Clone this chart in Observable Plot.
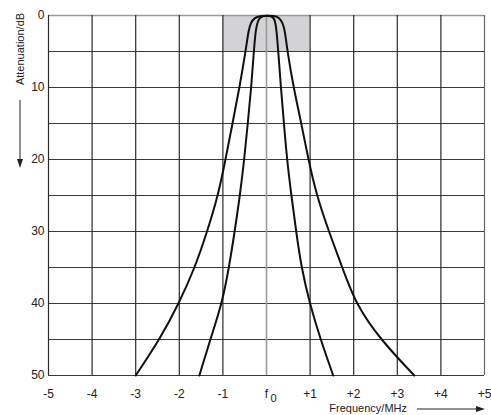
<!DOCTYPE html>
<html>
<head>
<meta charset="utf-8">
<script src="https://cdn.jsdelivr.net/npm/d3@7"></script>
<script src="https://cdn.jsdelivr.net/npm/@observablehq/plot@0.6"></script>
<style>
  html, body { margin: 0; padding: 0; background: #fff; }
  #chart { width: 491px; height: 415px; }
</style>
</head>
<body>
<div id="chart"></div>
<script>
// X axis ticks (MHz offset from f0) and labels
const xTicks = [-5, -4, -3, -2, -1, 0, 1, 2, 3, 4, 5];
const xTickLabels = ["-5", "-4", "-3", "-2", "-1", "f", "+1", "+2", "+3", "+4", "+5"];
const f0Subscript = ["0"];
// Y axis (attenuation dB)
const yTicks = [0, 10, 20, 30, 40, 50];
const yGrid = [0, 5, 10, 15, 20, 25, 30, 35, 40, 45, 50];

// Tolerance box
const boxX1 = [-1], boxX2 = [1], boxY1 = [0], boxY2 = [5];

// Wide filter curve
const wideFreq = [-3.0, -2.45, -2.01, -1.64, -1.36, -1.11, -0.94, -0.78, -0.62, -0.48, -0.41, -0.36, -0.27, -0.15,
                  0.2, 0.29, 0.37, 0.42, 0.48, 0.62, 0.80, 0.96, 1.15, 1.43, 1.74, 2.04, 2.61, 3.39];
const wideAtt  = [50, 45, 40, 35, 30, 25, 20, 15, 10, 5, 2, 1, 0.3, 0.02,
                  0.02, 0.3, 1, 2, 5, 10, 15, 20, 25, 30, 35, 40, 45, 50];

// Narrow filter curve
const narrowFreq = [-1.54, -1.29, -1.02, -0.86, -0.73, -0.61, -0.51, -0.43, -0.35, -0.29, -0.25, -0.19, -0.1,
                    0.12, 0.19, 0.23, 0.27, 0.33, 0.40, 0.47, 0.57, 0.68, 0.80, 0.99, 1.24, 1.53];
const narrowAtt  = [50, 45, 40, 35, 30, 25, 20, 15, 10, 5, 2, 0.5, 0.02,
                    0.02, 0.5, 2, 5, 10, 15, 20, 25, 30, 35, 40, 45, 50];

const wide = wideFreq.map((f, i) => ({f, a: wideAtt[i]}));
const narrow = narrowFreq.map((f, i) => ({f, a: narrowAtt[i]}));
const boxes = boxX1.map((x1, i) => ({x1, x2: boxX2[i], y1: boxY1[i], y2: boxY2[i]}));

const font = "'Liberation Sans', Arial, Helvetica, sans-serif";
const W = 491, H = 415, mL = 48, mR = 7, mT = 15, mB = 40;

const plot = Plot.plot({
  width: W,
  height: H,
  marginLeft: mL,
  marginRight: mR,
  marginTop: mT,
  marginBottom: mB,
  style: {fontFamily: font, fontSize: "12px", color: "#222", background: "#fff"},
  x: {domain: [-5, 5]},
  y: {domain: [0, 50], reverse: true},
  marks: [
    Plot.rect(boxes, {x1: "x1", x2: "x2", y1: "y1", y2: "y2", fill: "#d3d3d5"}),
    Plot.ruleY(yGrid, {stroke: d => d === 0 ? "#999" : "#3a3a3a", strokeWidth: d => d === 0 ? 1.5 : 1.2}),
    Plot.ruleX(xTicks, {stroke: d => d === 0 ? "#999" : (d === 5 ? "#666" : "#2a2a2a"), strokeWidth: d => d === 0 ? 1.6 : 1.2}),
    Plot.line(wide, {x: "f", y: "a", curve: "basis", stroke: "#111", strokeWidth: 2}),
    Plot.line(narrow, {x: "f", y: "a", curve: "basis", stroke: "#111", strokeWidth: 2}),
    Plot.axisY(yTicks, {tickSize: 0, tickPadding: 4, label: null, fontSize: 12, fill: "#222"}),
    Plot.axisX(xTicks, {tickSize: 0, tickPadding: 14, label: null, fontSize: 12, fill: "#222",
      tickFormat: d => xTickLabels[xTicks.indexOf(d)]}),
    Plot.text(f0Subscript, {x: () => 0, y: () => 50, text: d => d, dx: 7, dy: 23, fontSize: 11, fill: "#222"})
  ]
});

document.getElementById("chart").appendChild(plot);

// Axis titles and direction arrows
const svg = d3.select(plot);
svg.append("text")
  .attr("x", 407).attr("y", 409)
  .attr("text-anchor", "end").attr("dominant-baseline", "middle")
  .attr("font-family", font).attr("font-size", 11).attr("fill", "#222")
  .text("Frequency/MHz");
svg.append("line").attr("x1", 417).attr("x2", 477).attr("y1", 409).attr("y2", 409)
  .attr("stroke", "#222").attr("stroke-width", 1);
svg.append("path").attr("d", "M485,409 L476,406 L476,412 Z").attr("fill", "#222");

svg.append("text")
  .attr("transform", "translate(21,49) rotate(-90)")
  .attr("text-anchor", "middle").attr("dominant-baseline", "middle")
  .attr("font-family", font).attr("font-size", 11).attr("fill", "#222")
  .text("Attenuation/dB");
svg.append("line").attr("x1", 20).attr("x2", 20).attr("y1", 100).attr("y2", 160)
  .attr("stroke", "#222").attr("stroke-width", 1);
svg.append("path").attr("d", "M20,168 L17,159 L23,159 Z").attr("fill", "#222");
</script>
</body>
</html>
